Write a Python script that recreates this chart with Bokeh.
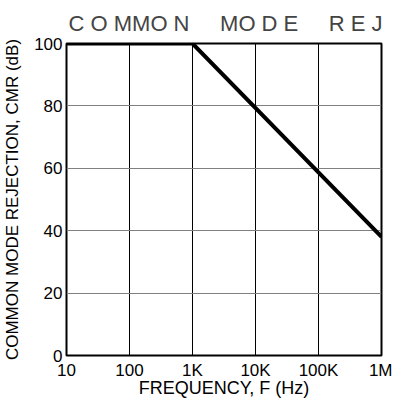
from bokeh.plotting import figure
from bokeh.models import FixedTicker, Range1d
from bokeh.embed import file_html
from bokeh.resources import INLINE

NB = "\u00a0"
title_text = NB.join(["C", "O", "MMO", "N"]) + NB * 5 + NB.join(["MO", "D", "E"]) + NB * 5 + NB.join(["R", "E", "J"])
x_label = "FREQUENCY, F (Hz)"
y_label = "COMMON MODE REJECTION, CMR (dB)"

freq = [10, 1000, 1000000]
cmr = [100, 100, 38]

x_ticks = [10, 100, 1000, 10000, 100000, 1000000]
x_tick_labels = ["10", "100", "1K", "10K", "100K", "1M"]
y_ticks = [0, 20, 40, 60, 80, 100]

FONT = "Liberation Sans"

p = figure(frame_width=315, frame_height=312, x_axis_type="log",
           x_range=Range1d(10, 1000000), y_range=Range1d(0, 100),
           output_backend="svg", toolbar_location=None,
           min_border_left=0, min_border_right=11,
           min_border_top=0, min_border_bottom=0)

p.title.text = title_text
p.title.text_font = FONT
p.title.text_font_size = "22px"
p.title.text_font_style = "normal"
p.title.align = "left"
p.title.offset = 2
p.title.standoff = 16

p.outline_line_color = "black"
p.outline_line_width = 2
p.outline_line_alpha = 1

p.xaxis.ticker = FixedTicker(ticks=x_ticks)
p.xaxis.major_label_overrides = {t: l for t, l in zip(x_ticks, x_tick_labels)}
p.yaxis.ticker = FixedTicker(ticks=y_ticks)

for ax in (p.xaxis, p.yaxis):
    ax.axis_line_color = None
    ax.major_tick_line_color = None
    ax.minor_tick_line_color = None
    ax.major_tick_out = 0
    ax.major_tick_in = 0
    ax.minor_tick_out = 0
    ax.minor_tick_in = 0
    ax.major_label_text_font = FONT
    ax.major_label_text_font_size = "17px"
    ax.major_label_text_color = "black"
    ax.axis_label_text_font = FONT
    ax.axis_label_text_font_style = "normal"
    ax.axis_label_text_color = "black"

p.xaxis.major_label_standoff = 5
p.xaxis.axis_label_standoff = -5
p.xaxis.axis_label_text_font_size = "18px"
p.yaxis.major_label_standoff = 4
p.yaxis.axis_label_standoff = 9
p.yaxis.axis_label_text_font_size = "17px"
p.xaxis.axis_label = x_label
p.yaxis.axis_label = y_label

p.xgrid.grid_line_color = "black"
p.xgrid.grid_line_width = 1
p.xgrid.grid_line_alpha = 1
p.ygrid.grid_line_color = "#808080"
p.ygrid.grid_line_width = 1
p.ygrid.grid_line_alpha = 1

p.line(freq, cmr, line_color="black", line_width=4)

open("out.html", "w").write(file_html(p, INLINE))
